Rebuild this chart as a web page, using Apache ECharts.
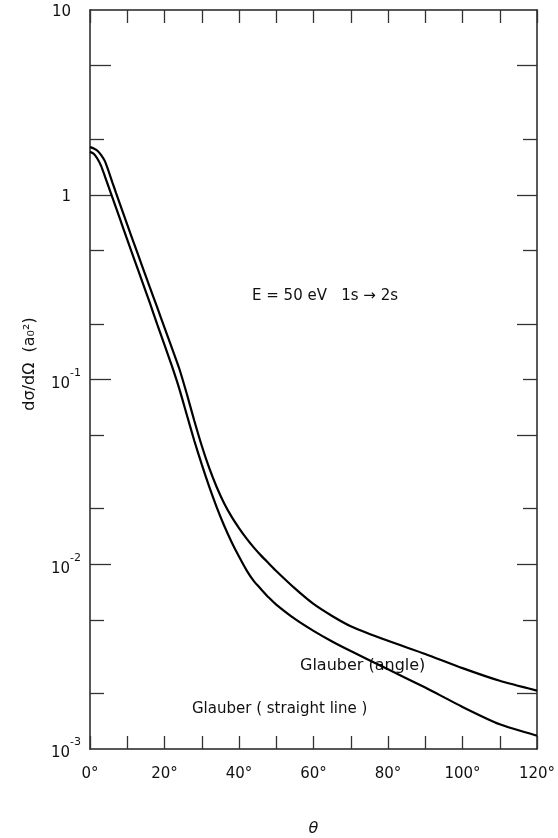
<!DOCTYPE html>
<html>
<head>
<meta charset="utf-8">
<title>Glauber 1s-2s</title>
<script src="https://cdn.jsdelivr.net/npm/echarts@6/dist/echarts.min.js"></script>
</head>
<body style="margin:0;background:#fff">

<div id="main" style="width:558px;height:838px;"></div>

<script type="text/javascript">
// scattering angle (deg)
var theta = [0, 1, 2, 3, 4, 5, 6, 7, 8, 10, 12, 14, 16, 18, 20, 22, 24, 26, 28, 30, 32, 34, 36, 38, 40, 42, 44, 46, 48, 50, 55, 60, 65, 70, 80, 90, 100, 110, 120];
// Glauber (angle)
var angleVals = [1.81, 1.78, 1.73, 1.64, 1.52, 1.34, 1.167, 1.021, 0.895, 0.689, 0.532, 0.411, 0.318, 0.247, 0.191, 0.148, 0.114, 0.0834, 0.0598, 0.0438, 0.0332, 0.0262, 0.0214, 0.0181, 0.0157, 0.0138, 0.0123, 0.0111, 0.0101, 0.0092, 0.0074, 0.0061, 0.00525, 0.00462, 0.00385, 0.00327, 0.00274, 0.00234, 0.00207];
// Glauber (straight line)
var straightVals = [1.71, 1.667, 1.567, 1.429, 1.259, 1.104, 0.968, 0.849, 0.745, 0.571, 0.440, 0.340, 0.262, 0.200, 0.154, 0.118, 0.0887, 0.0643, 0.0466, 0.0347, 0.0263, 0.0204, 0.0162, 0.0132, 0.0110, 0.0093, 0.0081, 0.0073, 0.0066, 0.00605, 0.00506, 0.00436, 0.00382, 0.00339, 0.00270, 0.00215, 0.00169, 0.00136, 0.00118];

var yLabels = [0.001, 0.01, 0.1, 1, 10];
var yLong = [0.01, 0.1, 1, 5];
var yShort = [0.002, 0.005, 0.02, 0.05, 0.2, 0.5, 2];
var yRightLong = [0.002, 0.01, 0.05, 0.2, 1, 5];
var yRightShort = [0.005, 0.02, 0.1, 0.5, 2];

var font = 'DejaVu Sans';
var ink = '#111';

function pairs(vals) {
    var out = [];
    for (var i = 0; i < theta.length; i++) out.push([theta[i], vals[i]]);
    return out;
}

function logAxis(pos, ticks, len, opts) {
    var ax = {
        type: 'log', logBase: 10, min: 0.001, max: 10, position: pos,
        axisLine: { show: false },
        axisTick: { show: true, inside: true, length: len, customValues: ticks,
            lineStyle: { color: '#333', width: 1.3 } },
        axisLabel: { show: false },
        splitLine: { show: false }, minorTick: { show: false }
    };
    for (var k in opts) ax[k] = opts[k];
    return ax;
}

var myChart = echarts.init(document.getElementById('main'));

var option = {
    backgroundColor: '#fff',
    animation: false,
    grid: { left: 90, right: 21, top: 10, bottom: 89, containLabel: false, outerBoundsMode: 'none' },
    xAxis: [{
        type: 'value', min: 0, max: 120, interval: 10, position: 'bottom',
        name: 'θ', nameLocation: 'middle', nameGap: 72,
        nameTextStyle: { fontFamily: font, fontStyle: 'italic', fontSize: 16, color: ink },
        axisLine: { show: true, lineStyle: { color: '#222', width: 1.5 } },
        axisTick: { inside: true, length: 13, lineStyle: { color: '#333', width: 1.3 } },
        axisLabel: { margin: 18, fontFamily: font, fontSize: 15, color: ink,
            formatter: function (v) { return v % 20 === 0 ? v + '°' : ''; } },
        splitLine: { show: false }
    }, {
        type: 'value', min: 0, max: 120, interval: 10, position: 'top',
        axisLine: { show: true, lineStyle: { color: '#222', width: 1.5 } },
        axisTick: { inside: true, length: 13, lineStyle: { color: '#333', width: 1.3 } },
        axisLabel: { show: false },
        splitLine: { show: false }
    }],
    yAxis: [
        logAxis('left', yLong, 21, {
            axisLine: { show: true, lineStyle: { color: '#222', width: 1.5 } },
            axisLabel: {
                show: true, customValues: yLabels, margin: 9, color: ink,
                formatter: function (v) {
                    if (v >= 10) return '{p|10}';
                    if (v >= 1) return '{p|1}';
                    return '{b|10}{s|' + Math.round(Math.log(v) / Math.LN10) + '}';
                },
                rich: {
                    p: { fontFamily: font, fontSize: 15, color: ink, padding: [4, 10, 0, 0] },
                    b: { fontFamily: font, fontSize: 15, color: ink, lineHeight: 24, verticalAlign: 'bottom' },
                    s: { fontFamily: font, fontSize: 11, color: ink, lineHeight: 24, verticalAlign: 'top' }
                }
            }
        }),
        logAxis('left', yShort, 14, {}),
        logAxis('right', yRightLong, 20, {
            axisLine: { show: true, lineStyle: { color: '#222', width: 1.5 } }
        }),
        logAxis('right', yRightShort, 14, {})
    ],
    graphic: [{
        type: 'text', x: 30, y: 364, rotation: Math.PI / 2,
        style: { text: 'dσ/dΩ  (a₀²)', font: '16px "DejaVu Sans"', fill: ink,
            textAlign: 'center', textVerticalAlign: 'middle' }
    }, {
        type: 'text', x: 252, y: 296,
        style: { text: 'E = 50 eV   1s → 2s', font: '15px "DejaVu Sans"', fill: ink,
            textVerticalAlign: 'middle' }
    }, {
        type: 'text', x: 300, y: 666,
        style: { text: 'Glauber (angle)', font: '16px "DejaVu Sans"', fill: ink,
            textVerticalAlign: 'middle' }
    }, {
        type: 'text', x: 192, y: 709,
        style: { text: 'Glauber ( straight line )', font: '15px "DejaVu Sans"', fill: ink,
            textVerticalAlign: 'middle' }
    }],
    series: [{
        name: 'Glauber (angle)', type: 'line', smooth: 0.2, showSymbol: false,
        lineStyle: { color: '#000', width: 2.2 },
        data: pairs(angleVals)
    }, {
        name: 'Glauber (straight line)', type: 'line', smooth: 0.2, showSymbol: false,
        lineStyle: { color: '#000', width: 2.2 },
        data: pairs(straightVals)
    }]
};

myChart.setOption(option);
</script>
</body>
</html>
